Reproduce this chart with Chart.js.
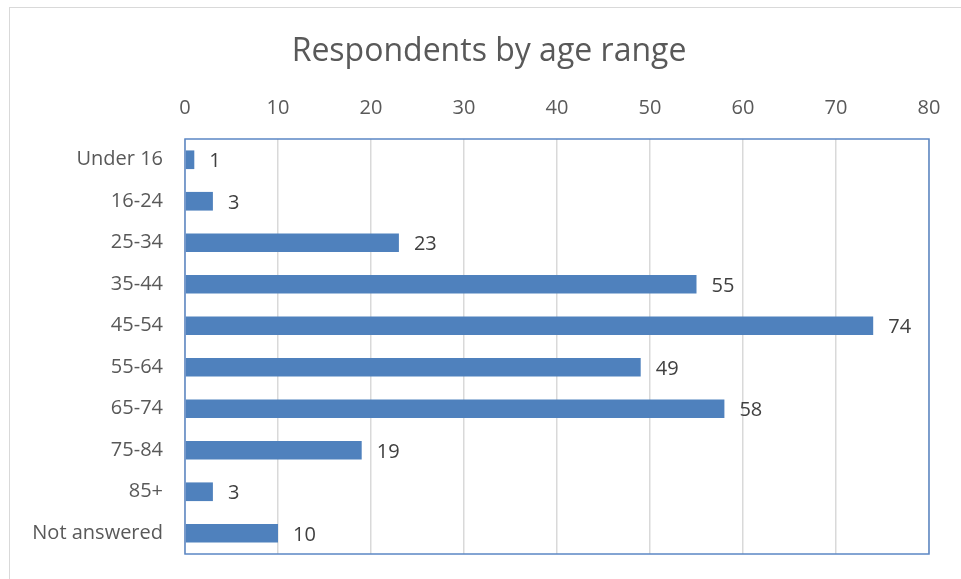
<!DOCTYPE html>
<html>
<head>
<meta charset="utf-8">
<script src="https://cdn.jsdelivr.net/npm/chart.js@4"></script>
<style>
  html, body { margin: 0; padding: 0; background: #fff; }
  #wrap { width: 961px; height: 579px; }
</style>
</head>
<body>
<div id="wrap"><canvas id="myChart" width="961" height="579"></canvas></div>
<script>
const ageRanges = ['Under 16', '16-24', '25-34', '35-44', '45-54', '55-64', '65-74', '75-84', '85+', 'Not answered'];
const respondents = [1, 3, 23, 55, 74, 49, 58, 19, 3, 10];
const xTicks = [0, 10, 20, 30, 40, 50, 60, 70, 80];
const chartTitle = 'Respondents by age range';

const fontName = '"Open Sans", sans-serif';

// title, value labels, plot border and outer frame
const extras = {
    id: 'extras',
    afterDatasetsDraw(chart) {
        const ctx = chart.ctx;
        const meta = chart.getDatasetMeta(0);
        ctx.save();
        ctx.font = '20px ' + fontName;
        ctx.fillStyle = '#404040';
        ctx.textAlign = 'left';
        ctx.textBaseline = 'middle';
        meta.data.forEach((bar, i) => {
            ctx.fillText(String(respondents[i]), bar.x + 15, bar.y + 2);
        });
        ctx.restore();
    },
    afterDraw(chart) {
        const ctx = chart.ctx;
        const a = chart.chartArea;
        ctx.save();
        ctx.strokeStyle = '#5b87c5';
        ctx.lineWidth = 1.5;
        ctx.strokeRect(a.left, a.top, a.right - a.left, a.bottom - a.top);
        ctx.strokeStyle = '#d9d9d9';
        ctx.lineWidth = 1;
        ctx.strokeRect(9.5, 7.5, 1200, 1200);
        ctx.font = '32px ' + fontName;
        ctx.fillStyle = '#595959';
        ctx.textAlign = 'center';
        ctx.textBaseline = 'middle';
        ctx.fillText(chartTitle, 489, 52);
        ctx.restore();
    }
};

const ctx = document.getElementById('myChart').getContext('2d');
new Chart(ctx, {
    type: 'bar',
    data: {
        labels: ageRanges,
        datasets: [{
            data: respondents,
            backgroundColor: '#4f81bd',
            borderWidth: 0,
            categoryPercentage: 1,
            barPercentage: 0.45
        }]
    },
    options: {
        indexAxis: 'y',
        responsive: false,
        animation: false,
        layout: {
            padding: { left: 0, right: 32, top: 70, bottom: 25 }
        },
        plugins: {
            legend: { display: false },
            tooltip: { enabled: false },
            title: { display: false }
        },
        scales: {
            x: {
                position: 'top',
                min: 0,
                max: 80,
                afterBuildTicks: (scale) => {
                    scale.ticks = xTicks.map(v => ({ value: v }));
                },
                afterFit: (scale) => { scale.height = 69; },
                ticks: {
                    color: '#595959',
                    font: { family: fontName, size: 20 },
                    padding: 19
                },
                grid: {
                    color: '#d9d9d9',
                    lineWidth: 1.5,
                    drawTicks: false
                },
                border: { display: false }
            },
            y: {
                afterFit: (scale) => { scale.width = 185; },
                ticks: {
                    color: '#595959',
                    font: { family: fontName, size: 20 },
                    padding: 0
                },
                grid: {
                    drawOnChartArea: false,
                    drawTicks: true,
                    tickLength: 22,
                    tickColor: 'rgba(0,0,0,0)'
                },
                border: { display: false }
            }
        }
    },
    plugins: [extras]
});
</script>
</body>
</html>
